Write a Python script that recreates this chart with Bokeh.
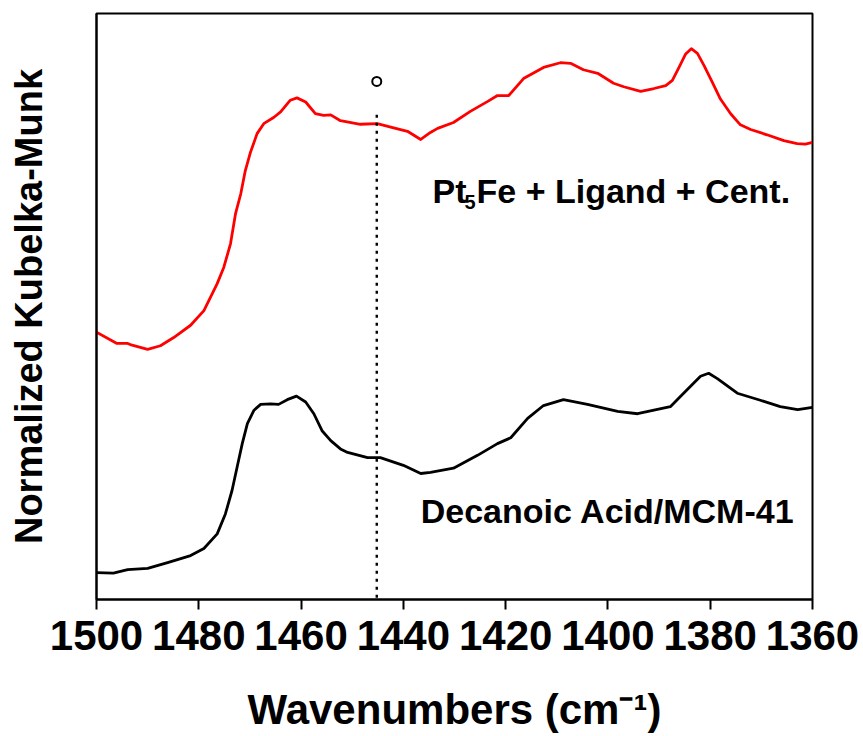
from bokeh.plotting import figure
from bokeh.models import Range1d, FixedTicker, ColumnDataSource
from bokeh.core.properties import value
from bokeh.embed import file_html
from bokeh.resources import INLINE

# DRIFTS spectra, normalized Kubelka-Munk units (arbitrary, offset for clarity)
wn_pt5fe = [1500.0, 1496.0, 1493.9, 1493.4, 1490.0, 1487.5, 1484.9, 1481.6, 1479.0, 1476.4,
            1475.1, 1473.8, 1472.8, 1471.8, 1470.9, 1469.9, 1468.6, 1467.3, 1465.3, 1464.0,
            1462.1, 1460.8, 1459.1, 1457.2, 1455.6, 1454.2, 1452.3, 1448.4, 1445.1, 1441.9,
            1439.2, 1436.6, 1434.7, 1433.3, 1430.2, 1426.9, 1423.5, 1421.6, 1419.4, 1416.5,
            1412.6, 1409.3, 1407.3, 1404.8, 1402.0, 1398.9, 1396.9, 1393.6, 1391.0, 1388.7,
            1387.4, 1386.1, 1384.8, 1383.7, 1382.5, 1381.2, 1379.6, 1378.0, 1376.0, 1374.1,
            1372.1, 1368.9, 1365.6, 1363.0, 1361.4, 1360.0]
km_pt5fe = [45.6, 43.7, 43.7, 43.5, 42.7, 43.3, 44.7, 46.8, 49.3, 53.9,
            56.7, 60.7, 65.9, 69.2, 73.2, 76.3, 79.5, 81.2, 82.3, 83.2,
            85.2, 85.6, 84.9, 82.9, 82.6, 82.7, 81.7, 81.1, 81.2, 80.5,
            79.9, 78.5, 79.7, 80.4, 81.4, 83.3, 85.0, 86.0, 86.0, 88.9,
            90.8, 91.6, 91.5, 90.4, 89.8, 88.1, 87.5, 86.7, 87.2, 87.7,
            88.6, 90.8, 93.1, 94.0, 93.2, 91.1, 88.3, 85.4, 82.9, 81.0,
            80.2, 79.3, 78.3, 77.8, 77.7, 78.0]

wn_decanoic = [1500.0, 1496.7, 1493.9, 1490.0, 1486.1, 1481.6, 1479.0, 1476.4, 1474.8, 1473.5,
               1472.5, 1471.5, 1470.5, 1469.2, 1467.9, 1466.0, 1464.4, 1462.7, 1460.9, 1459.1,
               1457.5, 1455.9, 1454.2, 1452.3, 1450.9, 1447.0, 1444.5, 1440.0, 1436.6, 1434.7,
               1430.2, 1425.5, 1421.6, 1419.0, 1415.7, 1412.6, 1408.7, 1404.0, 1398.1, 1394.2,
               1387.8, 1385.2, 1381.9, 1380.3, 1378.6, 1374.7, 1370.2, 1366.3, 1362.9, 1360.0]
km_decanoic = [4.6, 4.5, 5.1, 5.3, 6.3, 7.5, 8.7, 11.2, 14.6, 18.6,
               22.6, 26.6, 30.0, 32.3, 33.3, 33.4, 33.3, 34.1, 34.7, 33.7,
               31.7, 28.8, 27.1, 25.7, 25.1, 24.2, 24.2, 22.9, 21.5, 21.7,
               22.4, 24.6, 26.6, 27.6, 30.9, 33.1, 34.1, 33.3, 32.1, 31.7,
               32.9, 35.2, 38.1, 38.6, 37.7, 35.2, 34.0, 32.9, 32.4, 32.8]

# marked band position and its marker
band_wn = [1445.2]
band_bottom = [0.3]
band_top = [83.0]
band_marker_km = [88.4]

x_ticks = [1500, 1480, 1460, 1440, 1420, 1400, 1380, 1360]

FONT = "Liberation Sans"

p = figure(frame_width=716, frame_height=586, output_backend="svg", toolbar_location=None,
           x_range=Range1d(1500, 1360), y_range=Range1d(0, 100),
           min_border_left=96, min_border_right=51, min_border_top=13, min_border_bottom=137)
p.background_fill_color = "white"
p.border_fill_color = "white"
p.xgrid.visible = False
p.ygrid.visible = False
p.outline_line_color = "black"
p.outline_line_width = 2

# x axis
xa = p.xaxis[0]
xa.ticker = FixedTicker(ticks=x_ticks)
xa.minor_tick_line_color = None
xa.major_tick_in = 0
xa.major_tick_out = 10
xa.major_tick_line_width = 2
xa.major_tick_line_color = "black"
xa.axis_line_width = 2
xa.axis_line_color = "black"
xa.major_label_text_font = FONT
xa.major_label_text_font_style = "bold"
xa.major_label_text_font_size = "42px"
xa.major_label_text_color = "black"
xa.major_label_standoff = 11
xa.axis_label = "Wavenumbers (cm\u207b\u00b9)"
xa.axis_label_text_font = FONT
xa.axis_label_text_font_style = "bold"
xa.axis_label_text_font_size = "42px"
xa.axis_label_text_color = "black"
xa.axis_label_standoff = 33

# y axis: title only, no ticks
ya = p.yaxis[0]
ya.ticker = FixedTicker(ticks=[])
ya.major_tick_in = 0
ya.major_tick_out = 0
ya.minor_tick_line_color = None
ya.axis_line_width = 2
ya.axis_line_color = "black"
ya.axis_label = "Normalized Kubelka-Munk"
ya.axis_label_text_font = FONT
ya.axis_label_text_font_style = "bold"
ya.axis_label_text_font_size = "38px"
ya.axis_label_text_color = "black"
ya.axis_label_standoff = 47

# spectra
p.line(wn_pt5fe, km_pt5fe, line_color="#ff0000", line_width=2.8, line_join="round")
p.line(wn_decanoic, km_decanoic, line_color="black", line_width=2.8, line_join="round")

# band marker
p.segment(x0=band_wn, y0=band_bottom, x1=band_wn, y1=band_top,
          line_color="black", line_width=2.4, line_dash="3 5")
p.scatter(band_wn, band_marker_km, marker="circle", size=9, fill_color=None,
          line_color="black", line_width=2)

# sample labels
lbl = dict(text_font=value(FONT), text_font_style="bold", text_color="black",
           text_baseline="alphabetic", text_align="left")
pt_src = ColumnDataSource(dict(x=[1434.3], y=[69.7]))
p.text(x="x", y="y", text=value("Pt"), source=pt_src, text_font_size="34px", **lbl)
p.text(x="x", y="y", text=value("5"), source=pt_src, text_font_size="20px",
       x_offset=32, y_offset=11, **lbl)
p.text(x="x", y="y", text=value("Fe + Ligand + Cent."), source=pt_src,
       text_font_size="34px", x_offset=44, **lbl)
p.text(x=[1436.6], y=[15.1], text=["Decanoic Acid/MCM-41"], text_font_size="34px", **lbl)

open("out.html", "w").write(file_html(p, INLINE))
